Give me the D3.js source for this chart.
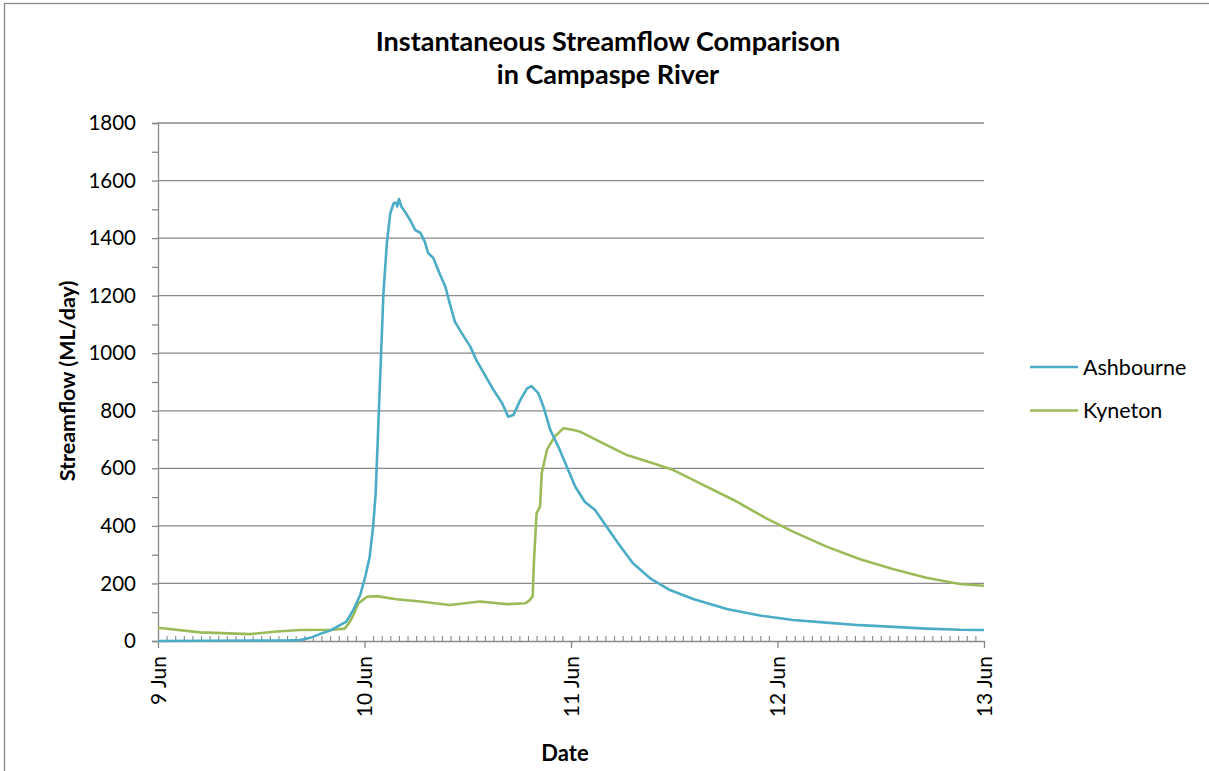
<!DOCTYPE html>
<html>
<head>
<meta charset="utf-8">
<script src="https://cdn.jsdelivr.net/npm/d3@7"></script>
<style>
  html, body { margin: 0; padding: 0; background: #fff; }
  svg { display: block; font-family: Lato, "Open Sans", sans-serif; }
</style>
</head>
<body>
<svg id="chart" width="1209" height="771"></svg>
<script>
// ---- Data (hours since 9 Jun 00:00, streamflow in ML/day) ----
const ashHours = [0, 15.3, 16.5, 17.7, 18.8, 20.0, 21.2, 21.9, 22.7, 23.5, 24.1, 24.6, 25.0, 25.3, 25.6, 25.9, 26.2, 26.6, 27.0, 27.4, 27.7, 27.8, 28.0, 28.3, 28.7, 29.3, 29.9, 30.5, 31.0, 31.4, 32.0, 32.8, 33.4, 33.9, 34.5, 35.3, 36.3, 37.0, 38.0, 39.0, 40.0, 40.7, 41.3, 42.1, 42.9, 43.4, 44.2, 44.8, 45.6, 46.7, 47.5, 48.5, 49.6, 50.8, 52.0, 53.5, 55.2, 57.2, 59.5, 62.2, 66.1, 70.1, 73.8, 77.7, 81.6, 85.5, 89.3, 93.2, 96];
const ashFlow  = [0, 2, 3, 11, 24, 36, 56, 67, 108, 160, 225, 292, 397, 514, 745, 976, 1208, 1383, 1487, 1522, 1523, 1510, 1536, 1509, 1492, 1463, 1428, 1418, 1388, 1348, 1331, 1272, 1231, 1174, 1110, 1070, 1023, 976, 924, 872, 826, 779, 785, 837, 878, 886, 861, 814, 733, 664, 606, 536, 484, 455, 403, 339, 270, 218, 177, 146, 111, 88, 73, 64, 55, 49, 43, 39, 38];
const kynHours = [0, 4.9, 10.7, 13.8, 16.5, 20.3, 21.7, 22.3, 22.7, 23.3, 24.3, 25.4, 27.7, 30.5, 33.9, 37.4, 40.5, 42.7, 43.2, 43.55, 43.7, 44.0, 44.4, 44.6, 45.2, 46.1, 47.1, 48.3, 49.1, 49.8, 51.4, 54.5, 57.6, 59.9, 63.0, 66.9, 70.7, 73.8, 77.7, 81.6, 85.5, 89.3, 93.2, 96];
const kynFlow  = [46, 30, 24, 33, 38, 39, 43, 67, 90, 131, 154, 156, 145, 137, 125, 137, 128, 131, 142, 156, 281, 444, 467, 583, 664, 710, 739, 733, 727, 716, 692, 646, 617, 594, 548, 490, 426, 380, 328, 284, 249, 220, 198, 192];
const seriesNames = ["Ashbourne", "Kyneton"];
const seriesColors = ["#4BACC6", "#9BBB59"];
const yTicks = [0, 200, 400, 600, 800, 1000, 1200, 1400, 1600, 1800];
const titleLines = ["Instantaneous Streamflow Comparison", "in Campaspe River"];
const xTitle = "Date";
const yTitle = "Streamflow (ML/day)";

// ---- Setup ----
const start = new Date(2013, 5, 9, 0, 0);
const end = new Date(2013, 5, 13, 0, 0);
const toDate = h => d3.timeMinute.offset(start, Math.round(h * 60));

const svg = d3.select("#chart");
const pLeft = 158, pRight = 984, pTop = 123, pBottom = 641;

const x = d3.scaleTime().domain([start, end]).range([pLeft, pRight]);
const y = d3.scaleLinear().domain([0, 1800]).range([pBottom, pTop]);

// outer frame
svg.append("rect").attr("x", 4.5).attr("y", 3.5).attr("width", 1230).attr("height", 800)
  .attr("fill", "none").attr("stroke", "#898989").attr("stroke-width", 1.3);

const gridColor = "#898989";

// gridlines
svg.append("g").selectAll("line").data(yTicks.filter(d => d > 0)).join("line")
  .attr("x1", pLeft).attr("x2", pRight)
  .attr("y1", d => y(d)).attr("y2", d => y(d))
  .attr("stroke", gridColor).attr("stroke-width", 1.3);

// y axis
const yAxis = d3.axisLeft(y).tickValues(yTicks).tickSize(6).tickPadding(16).tickFormat(d3.format("d"));
const gy = svg.append("g").attr("transform", `translate(${pLeft},0)`).call(yAxis);
gy.select(".domain").attr("stroke", gridColor).attr("stroke-width", 1.3);
gy.selectAll(".tick line").attr("stroke", gridColor).attr("stroke-width", 1.3);
gy.selectAll(".tick text").attr("font-size", 20.5).attr("fill", "#000").attr("font-family", "Lato");
// y minor ticks
const yMinor = d3.axisLeft(y).tickValues(d3.range(100, 1800, 200)).tickSize(6).tickFormat("");
const gym = svg.append("g").attr("transform", `translate(${pLeft},0)`).call(yMinor);
gym.select(".domain").remove();
gym.selectAll(".tick line").attr("stroke", gridColor).attr("stroke-width", 1.3);

// x minor ticks (hourly, upward)
const hourTicks = d3.timeHour.range(start, end).filter(d => d.getHours() !== 0);
const xMinor = d3.axisBottom(x).tickValues(hourTicks).tickSizeInner(-5).tickSizeOuter(0).tickFormat("");
const gxm = svg.append("g").attr("transform", `translate(0,${pBottom})`).call(xMinor);
gxm.select(".domain").remove();
gxm.selectAll(".tick line").attr("stroke", gridColor).attr("stroke-width", 1.1);

// x axis major ticks
const xAxis = d3.axisBottom(x).ticks(d3.timeDay.every(1)).tickSize(7).tickSizeOuter(0)
  .tickFormat(d3.timeFormat("%-d %b"));
const gx = svg.append("g").attr("transform", `translate(0,${pBottom})`).call(xAxis);
gx.select(".domain").attr("stroke", gridColor).attr("stroke-width", 1.3);
gx.selectAll(".tick line").attr("stroke", gridColor).attr("stroke-width", 1.3);
gx.selectAll(".tick text")
  .attr("font-size", 21).attr("fill", "#000").attr("font-family", "Lato")
  .attr("transform", "rotate(-90)")
  .attr("text-anchor", "end")
  .attr("dy", "0.35em")
  .attr("x", -15).attr("y", 0);

// lines
const line = d3.line().x(d => x(toDate(d[0]))).y(d => y(d[1]));
const ashData = d3.zip(ashHours, ashFlow);
const kynData = d3.zip(kynHours, kynFlow);
svg.append("path").datum(kynData).attr("d", line)
  .attr("fill", "none").attr("stroke", seriesColors[1]).attr("stroke-width", 2.6).attr("stroke-linejoin", "round");
svg.append("path").datum(ashData).attr("d", line)
  .attr("fill", "none").attr("stroke", seriesColors[0]).attr("stroke-width", 2.6).attr("stroke-linejoin", "round");

// title
const title = svg.append("text").attr("text-anchor", "middle").attr("font-weight", "bold")
  .attr("font-size", 27).attr("fill", "#000").attr("font-family", "Lato");
titleLines.forEach((t, i) => title.append("tspan").attr("x", 608).attr("y", 51 + i * 33).text(t));

// axis titles
svg.append("text").attr("x", 565).attr("y", 761).attr("text-anchor", "middle")
  .attr("font-weight", "bold").attr("font-size", 22).attr("font-family", "Lato").text(xTitle);
svg.append("text").attr("transform", "translate(75,381) rotate(-90)").attr("text-anchor", "middle")
  .attr("font-weight", "bold").attr("font-size", 21.5).attr("font-family", "Lato").text(yTitle);

// legend
const legend = svg.append("g");
seriesNames.forEach((name, i) => {
  const ly = 367 + i * 43.5;
  legend.append("line").attr("x1", 1030).attr("x2", 1078).attr("y1", ly).attr("y2", ly)
    .attr("stroke", seriesColors[i]).attr("stroke-width", 2.6);
  legend.append("text").attr("x", 1083).attr("y", ly).attr("dy", "0.35em")
    .attr("font-size", 21.5).attr("font-family", "Lato").attr("fill", "#000").text(name);
});
</script>
</body>
</html>
